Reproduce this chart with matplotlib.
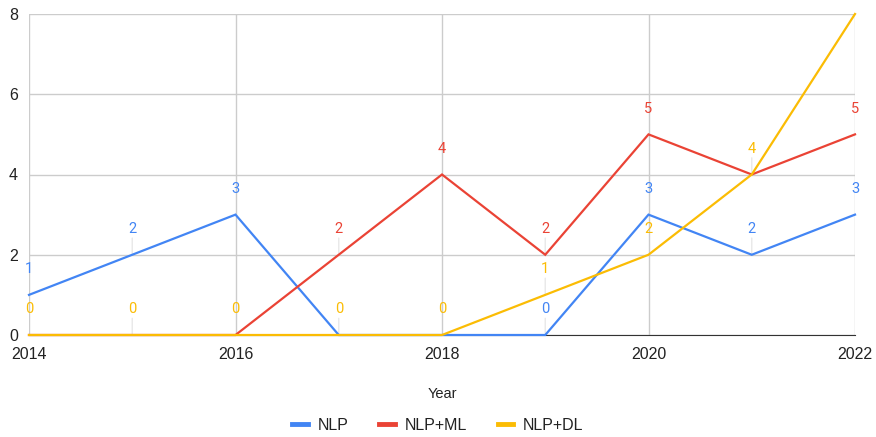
import matplotlib
matplotlib.use("Agg")
import matplotlib.pyplot as plt
from matplotlib.lines import Line2D

plt.rcParams["font.family"] = ["Liberation Sans", "DejaVu Sans"]

years = [2014, 2015, 2016, 2017, 2018, 2019, 2020, 2021, 2022]
nlp = [1, 2, 3, 0, 0, 0, 3, 2, 3]
nlp_ml = [0, 0, 0, 2, 4, 2, 5, 4, 5]
nlp_dl = [0, 0, 0, 0, 0, 1, 2, 4, 8]
# which data labels are drawn (overlapping ones are hidden in the original)
show_nlp = [1, 1, 1, 0, 0, 1, 1, 1, 1]
show_ml = [0, 0, 0, 1, 1, 1, 1, 0, 1]
show_dl = [1, 1, 1, 1, 1, 1, 1, 1, 0]

series = [("NLP", nlp, show_nlp, "#4285F4"),
          ("NLP+ML", nlp_ml, show_ml, "#EA4335"),
          ("NLP+DL", nlp_dl, show_dl, "#FBBC04")]

fig = plt.figure(figsize=(8.76, 4.37), dpi=100)
ax = fig.add_axes([29 / 876, 102 / 437, 826 / 876, 321 / 437])

for name, vals, show, col in series:
    ax.plot(years, vals, color=col, lw=1.6, solid_joinstyle="miter", clip_on=False, zorder=3)
    for x, v, s in zip(years, vals, show):
        if not s:
            continue
        ax.annotate(str(v), (x, v), xytext=(0, 18.5), textcoords="offset points",
                    ha="center", va="center", color=col, fontsize=10.5, zorder=4,
                    family=["Roboto", "DejaVu Sans"], annotation_clip=False)
        if x % 2:
            # faint leader line under the label
            ax.annotate("", (x, v), xytext=(0, 12), textcoords="offset points",
                        arrowprops=dict(arrowstyle="-", color="#e8e8e8", lw=1,
                                        shrinkA=0, shrinkB=0), zorder=1)

ax.set_xlim(2014, 2022)
ax.set_ylim(0, 8)
ax.set_xticks([2014, 2016, 2018, 2020, 2022])
ax.set_yticks([0, 2, 4, 6, 8])
ax.grid(True, color="#cccccc", lw=1, zorder=0)
ax.tick_params(length=0, labelsize=11.5, colors="#222222")
ax.tick_params(axis="x", pad=8.5)
ax.tick_params(axis="y", pad=8)
for sp in ("top", "right", "left"):
    ax.spines[sp].set_visible(False)
ax.spines["bottom"].set_color("#333333")
ax.spines["bottom"].set_zorder(2)
ax.set_xlabel("Year", fontsize=10.5, color="#222222", labelpad=18)

handles = [Line2D([0], [0], color=c, lw=3.5) for _, _, _, c in series]
fig.legend(handles, [n for n, _, _, _ in series], loc="center", bbox_to_anchor=(0.5, 12 / 437),
           ncol=3, frameon=False, fontsize=11.5, handlelength=1.0, handletextpad=0.6,
           columnspacing=1.9, labelcolor="#222222")

fig.savefig("out.png", dpi=100)
